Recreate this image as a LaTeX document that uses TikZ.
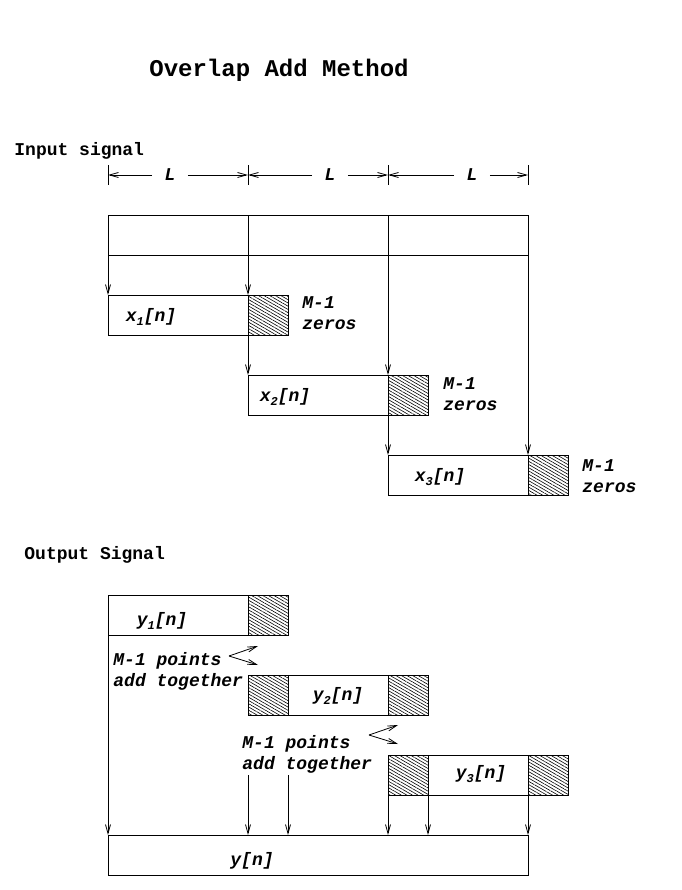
\documentclass[tikz,border=0pt]{standalone}
\usepackage{fontspec}
\setmainfont{Liberation Mono}
\usetikzlibrary{arrows.meta,patterns.meta,positioning}
\newcommand{\lowidx}[1]{\raisebox{-0.4ex}{\fontsize{12}{12}\selectfont #1}}

\tikzset{
  seg/.style={shape=rectangle,draw=black,minimum height=40pt,inner sep=0pt,outer sep=0pt},
  pad/.style={seg,minimum width=40pt,pattern={Lines[angle=-30,distance=2.8pt,line width=0.6pt]}},
  lbl/.style={font=\fontsize{18}{21}\selectfont\bfseries\itshape,inner sep=0pt,align=left},
  head/.style={font=\fontsize{18}{21}\selectfont\bfseries,inner sep=0pt},
}

\begin{document}
\begin{tikzpicture}[x=1pt,y=-1pt,line width=0.8pt,>={Straight Barb[length=9pt,width=5pt]}]
\useasboundingbox (0,0) rectangle (681,890);

% Titles
\node [font=\fontsize{24}{24}\selectfont\bfseries] at (279,70) (title) {Overlap Add Method};
\node [head,anchor=west] at (14,151) (insig) {Input signal};
\node [head,anchor=west] at (24,555) (outsig) {Output Signal};

% Block length marks
\coordinate (t0) at (108,175);
\coordinate (t1) at (248,175);
\coordinate (t2) at (388,175);
\coordinate (t3) at (528,175);
\foreach \t in {t0,t1,t2,t3}
  \draw ([yshift=-10pt]\t) -- ([yshift=10pt]\t);
\node [lbl,fill=white,inner xsep=12pt] at (170,175) (L1) {L};
\node [lbl,fill=white,inner xsep=12pt] at (330,175) (L2) {L};
\node [lbl,fill=white,inner xsep=12pt] at (472,175) (L3) {L};
\draw [->] (L1) -- (t0);
\draw [->] (L1) -- (t1);
\draw [->] (L2) -- (t1);
\draw [->] (L2) -- (t2);
\draw [->] (L3) -- (t2);
\draw [->] (L3) -- (t3);

% Input signal row
\node [seg,minimum width=140pt] at (178,235) (in1) {};
\node [seg,minimum width=140pt] at (318,235) (in2) {};
\node [seg,minimum width=140pt] at (458,235) (in3) {};

% Zero padded input blocks
\node [seg,minimum width=140pt] at (178,315) (x1) {};
\node [pad] at (268,315) (z1) {};
\node [lbl] at (151,317) {x\lowidx{1}[n]};
\node [lbl,anchor=west] at (302,313) (m1) {M-1\\zeros};

\node [seg,minimum width=140pt] at (318,395) (x2) {};
\node [pad] at (408,395) (z2) {};
\node [lbl] at (285,397) {x\lowidx{2}[n]};
\node [lbl,anchor=west] at (443,394) (m2) {M-1\\zeros};

\node [seg,minimum width=140pt] at (458,475) (x3) {};
\node [pad] at (548,475) (z3) {};
\node [lbl] at (440,477) {x\lowidx{3}[n]};
\node [lbl,anchor=west] at (582,476) (m3) {M-1\\zeros};

\draw [->] (in1.south west) -- (x1.north west);
\draw [->] (in1.south east) -- (x1.north east);
\draw [->] (x1.south east) -- (x2.north west);
\draw [->] (in2.south east) -- (x2.north east);
\draw [->] (x2.south east) -- (x3.north west);
\draw [->] (in3.south east) -- (x3.north east);

% Output blocks
\node [seg,minimum width=140pt] at (178,615) (y1) {};
\node [pad] at (268,615) (p1) {};
\node [lbl] at (162,621) {y\lowidx{1}[n]};

\node [pad] at (268,695) (p2a) {};
\node [seg,minimum width=100pt] at (338,695) (y2) {};
\node [pad] at (408,695) (p2b) {};
\node [lbl] at (338,696) {y\lowidx{2}[n]};

\node [pad] at (408,775) (p3a) {};
\node [seg,minimum width=100pt] at (478,775) (y3) {};
\node [pad] at (548,775) (p3b) {};
\node [lbl] at (481,774) {y\lowidx{3}[n]};

\node [seg,minimum width=420pt] at (318,855) (yn) {};
\node [lbl] at (252,861) {y[n]};

% Overlap notes
\node [lbl,anchor=west,text depth=0pt] at (113,669) (add1) {M-1 points\\add together};
\coordinate (a1) at (229,656);
\coordinate (a1u) at (258,646);
\coordinate (a1d) at (258,665);
\draw [->] (a1) -- (a1u);
\draw [->] (a1) -- (a1d);

\node [lbl,anchor=west] at (242,754) (add2) {M-1 points\\add together};
\coordinate (a2) at (369,735);
\coordinate (a2u) at (398,725);
\coordinate (a2d) at (398,744);
\draw [->] (a2) -- (a2u);
\draw [->] (a2) -- (a2d);

% Sums into y[n]
\coordinate (s1) at (248,775);
\coordinate (s2) at (288,775);
\draw [->] (y1.south west) -- (yn.north west);
\draw [->] (s1) -- (s1 |- yn.north);
\draw [->] (s2) -- (s2 |- yn.north);
\draw [->] (p3a.south west) -- (p3a.south west |- yn.north);
\draw [->] (y3.south west) -- (y3.south west |- yn.north);
\draw [->] (y3.south east) -- (yn.north east);

\end{tikzpicture}
\end{document}
